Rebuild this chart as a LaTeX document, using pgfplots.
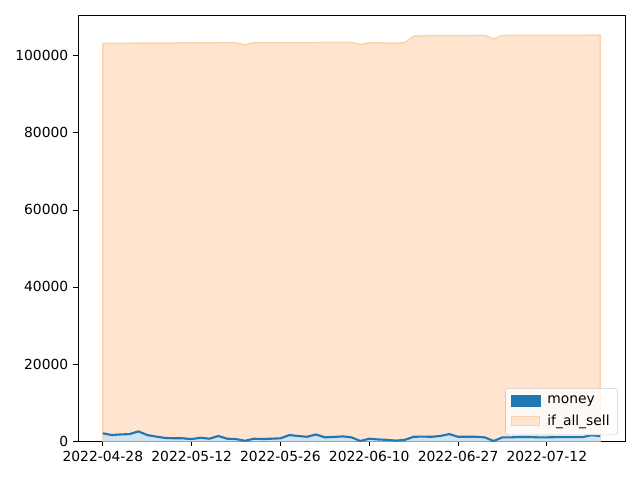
\documentclass[border=0pt]{standalone}
\usepackage{fontspec}
\setmainfont{DejaVu Sans}
\usepackage{pgfplots}
\pgfplotsset{compat=1.18}
\usepackage{pgfplotstable}
\definecolor{tabblue}{HTML}{1F77B4}
\definecolor{bluefill}{HTML}{D2E4F0}
\definecolor{orfill}{HTML}{FFE5CF}
\definecolor{orline}{HTML}{FFD1A8}
\pgfplotstableread{
i money sell
0 2000 103200
1 1550 103220
2 1700 103240
3 1800 103260
4 2500 103280
5 1550 103300
6 1150 103310
7 800 103320
8 700 103330
9 700 103340
10 500 103350
11 850 103370
12 600 103390
13 1300 103400
14 600 103400
15 500 103400
16 50 102800
17 600 103400
18 500 103400
19 600 103420
20 700 103420
21 1550 103430
22 1300 103440
23 1100 103450
24 1700 103460
25 950 103470
26 1050 103480
27 1200 103480
28 950 103480
29 0 102900
30 600 103400
31 400 103400
32 300 103300
33 100 103300
34 300 103400
35 1100 105100
36 1150 105200
37 1100 105220
38 1300 105240
39 1800 105250
40 1100 105260
41 1100 105270
42 1100 105280
43 950 105300
44 0 104400
45 950 105300
46 950 105300
47 1050 105300
48 1050 105300
49 950 105320
50 950 105320
51 1000 105330
52 1000 105330
53 1000 105340
54 1000 105340
55 1500 105350
56 1300 105350
}\data
\begin{document}
\fontsize{10.4}{12.5}\selectfont
\begin{tikzpicture}
\begin{axis}[
  scale only axis,
  width=410.25pt, height=319.5pt,
  xmin=-2.8, xmax=58.8,
  ymin=0, ymax=110600,
  axis line style={black, line width=0.6pt},
  xtick={0,10,20,30,40,50},
  xticklabels={2022-04-28,2022-05-12,2022-05-26,2022-06-10,2022-06-27,2022-07-12},
  ytick={0,20000,40000,60000,80000,100000},
  scaled y ticks=false,
  yticklabel style={/pgf/number format/.cd, fixed, 1000 sep={}, assume math mode=true},
  tick align=outside,
  major tick length=3.65pt,
  tick style={black, line width=0.6pt},
  xtick pos=bottom, ytick pos=left,
  tick label style={font=\fontsize{10.4}{12.5}\selectfont},
  legend style={at={(0.987,0.014)}, anchor=south east, draw=black!20, rounded corners=2pt, fill=white, fill opacity=0.8, text opacity=1, font=\fontsize{10.4}{12.5}\selectfont, row sep=3pt, inner xsep=4pt, inner ysep=3.5pt},
  legend cell align=left,
]
\addplot[draw=orline, line width=1.1pt, fill=orfill, area legend, forget plot] table[x=i, y=sell] {\data} \closedcycle;
\addplot[draw=none, fill=bluefill, forget plot] table[x=i, y=money] {\data} \closedcycle;
\addplot[tabblue, line width=1.6pt, forget plot] table[x=i, y=money] {\data};
\addlegendimage{legend image code/.code={\fill[tabblue, fill opacity=1, sharp corners] (0pt,-4pt) rectangle (22pt,4pt); \path (25pt,0pt);}}
\addlegendentry{money}
\addlegendimage{legend image code/.code={\filldraw[draw=orline, fill=orfill, fill opacity=1, draw opacity=1, line width=0.8pt, sharp corners] (0.4pt,-3.6pt) rectangle (21.6pt,3.6pt); \path (25pt,0pt);}}
\addlegendentry{if\_all\_sell}
\end{axis}
\pgfresetboundingbox
\path (current axis.south west) ++(-58.5pt,-29.25pt) coordinate (bl);
\path (current axis.north east) ++(11.25pt,11.25pt) coordinate (tr);
\path[use as bounding box] (bl) rectangle (tr);
\end{tikzpicture}
\end{document}
